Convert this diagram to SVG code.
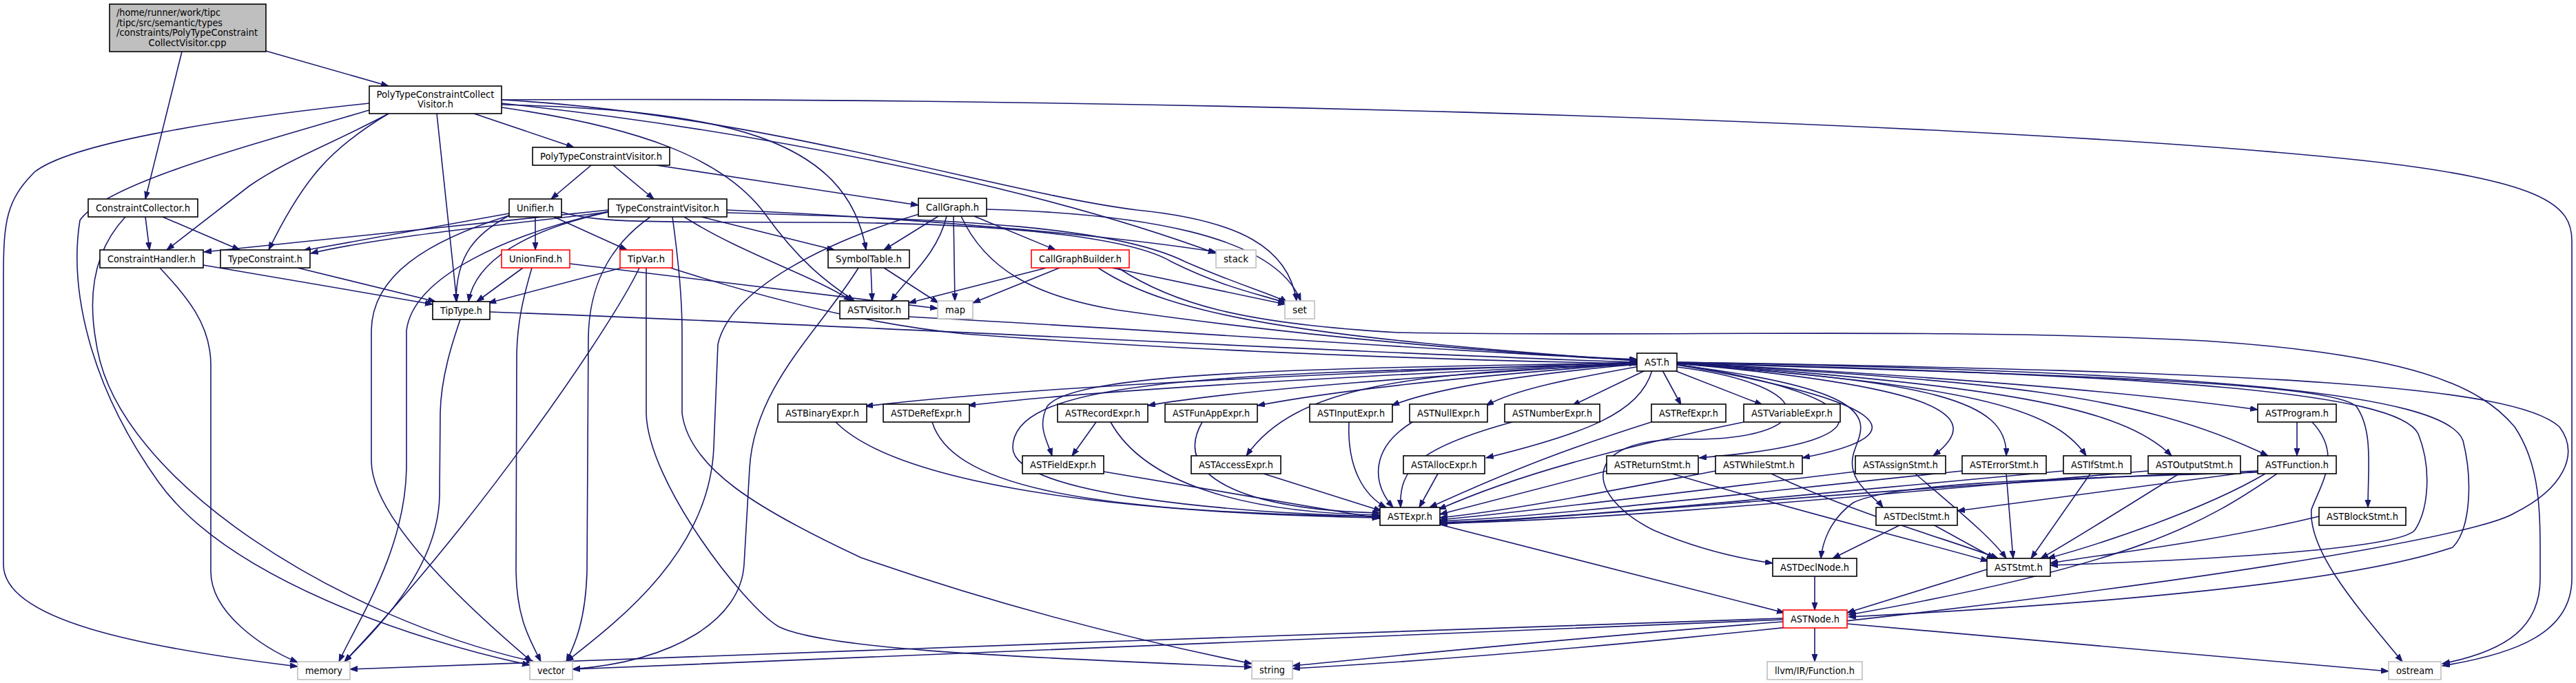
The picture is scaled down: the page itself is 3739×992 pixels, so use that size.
<svg xmlns="http://www.w3.org/2000/svg" width="3739" height="992" viewBox="0 0 3739 992">
<style>
.n rect{fill:#fff;stroke:#000;stroke-width:1.6}
.n text{font-family:"DejaVu Sans","Liberation Sans",sans-serif;font-size:14px;text-anchor:middle;fill:#000}
.red rect{stroke:#ff0000}
.sys rect{stroke:#bfbfbf}
.root rect{fill:#bfbfbf}
.root text.l{text-anchor:start}
#edges path{fill:none;stroke:#191970;stroke-width:1.6;marker-end:url(#a)}
</style>
<defs>
<marker id="a" markerUnits="userSpaceOnUse" markerWidth="12" markerHeight="9" refX="11" refY="4" orient="auto">
<path d="M0,0 L11,4 L0,8 z" fill="#191970" stroke="#191970" stroke-width="1"/>
</marker>
</defs>
<rect width="3739" height="992" fill="#fff"/>
<g id="edges">
<path d="M264,75 L211,289"/>
<path d="M386,74 L564,125"/>
<path d="M564,165 C480,210 420,230 362,270 L242,363"/>
<path d="M564,165 C480,215 440,260 390,363"/>
<path d="M634,165 L663,438"/>
<path d="M688,165 L833,214"/>
<path d="M728,152 C1050,160 1230,200 1257,363"/>
<path d="M728,156 C930,185 1050,230 1110,310 C1160,380 1200,410 1240,437"/>
<path d="M728,150 C1100,190 1500,270 1765,368"/>
<path d="M728,145 C1100,165 1450,280 1650,305 C1800,320 1870,360 1882,437"/>
<path d="M536,150 C300,175 100,210 50,250 C10,290 5,320 5,400 L5,820 C5,900 200,940 432,968"/>
<path d="M536,160 C330,220 150,270 116,320 C100,420 130,560 230,700 C330,840 600,930 769,966"/>
<path d="M728,145 C1500,140 2800,170 3400,230 C3700,260 3733,300 3733,350 L3733,840 C3733,920 3650,950 3545,967"/>
<path d="M211,315 L217,363"/>
<path d="M236,315 L348,363"/>
<path d="M182,315 C140,360 125,420 140,500 C170,700 500,900 775,961"/>
<path d="M295,385 L628,442"/>
<path d="M232,389 C270,430 306,470 306,530 L306,830 C306,890 380,940 432,962"/>
<path d="M432,389 L632,438"/>
<path d="M858,240 L800,289"/>
<path d="M890,240 L949,289"/>
<path d="M953,240 L1333,298"/>
<path d="M777,315 L777,363"/>
<path d="M804,315 L910,363"/>
<path d="M739,310 L440,364"/>
<path d="M739,313 C690,340 662,370 662,438"/>
<path d="M739,313 C620,350 540,400 539,480 L539,670 C540,760 700,900 772,961"/>
<path d="M815,308 C870,325 950,322 1200,323 C1500,325 1650,350 1700,380 C1780,420 1840,430 1866,440"/>
<path d="M883,305 L296,366"/>
<path d="M883,308 C700,330 550,345 451,368"/>
<path d="M883,308 C760,335 690,380 680,438"/>
<path d="M883,307 C740,340 600,400 590,480 L590,680 C588,800 520,900 492,961"/>
<path d="M944,315 C880,360 855,420 854,490 L852,830 C850,900 835,935 822,961"/>
<path d="M976,315 C985,380 990,430 990,480 L990,600 C1000,680 1100,740 1250,810 C1450,880 1650,930 1817,964"/>
<path d="M1018,315 L1211,363"/>
<path d="M993,315 C1080,370 1180,400 1236,437"/>
<path d="M1055,305 C1300,315 1600,340 1765,366"/>
<path d="M1055,309 C1400,318 1620,330 1720,380 C1800,415 1850,428 1868,439"/>
<path d="M902,389 L709,440"/>
<path d="M928,389 C890,470 700,750 500,961"/>
<path d="M938,389 L938,600 C940,700 1080,880 1130,910 C1200,945 1500,955 1817,969"/>
<path d="M973,389 C1100,430 1250,470 1400,485 C1800,515 2200,525 2376,528"/>
<path d="M759,389 L692,438"/>
<path d="M772,389 C760,430 750,470 750,520 L749,830 C750,900 770,930 785,961"/>
<path d="M827,383 L1361,448"/>
<path d="M711,453 C1200,470 2000,515 2376,526"/>
<path d="M668,464 C663,480 640,540 639,600 L638,720 C636,820 560,900 500,961"/>
<path d="M1264,389 L1266,437"/>
<path d="M1283,389 L1362,440"/>
<path d="M1246,389 C1190,480 1095,560 1088,680 L1080,820 C1075,900 980,960 831,972"/>
<path d="M1362,314 L1283,363"/>
<path d="M1374,314 C1360,370 1320,400 1293,437"/>
<path d="M1384,314 L1386,437"/>
<path d="M1414,314 L1532,363"/>
<path d="M1432,304 C1650,310 1850,340 1888,437"/>
<path d="M1334,311 C1200,350 1060,420 1042,500 L1036,650 C1030,800 900,900 822,961"/>
<path d="M1395,314 C1430,390 1500,430 1620,450 C1900,490 2200,515 2376,522"/>
<path d="M1519,389 L1319,440"/>
<path d="M1538,389 L1412,440"/>
<path d="M1614,389 L1866,442"/>
<path d="M1594,389 C1700,460 1900,490 2376,524"/>
<path d="M1623,389 C1700,440 1800,470 2029,483 C2400,490 2800,475 3200,495 C3500,515 3600,560 3650,620 C3690,680 3687,750 3687,840 C3687,910 3640,945 3545,964"/>
<path d="M1319,460 C1700,480 2100,510 2376,523"/>
<path d="M2376,526 C2000,540 1500,560 1256,590"/>
<path d="M2376,527 C2000,545 1600,565 1405,589"/>
<path d="M2376,527 C2100,545 1800,565 1666,589"/>
<path d="M2376,528 C2150,545 1950,565 1825,589"/>
<path d="M2376,529 C2200,545 2080,565 2020,589"/>
<path d="M2380,532 C2280,550 2200,565 2157,589"/>
<path d="M2388,538 L2282,589"/>
<path d="M2413,538 L2440,588"/>
<path d="M2430,538 L2558,588"/>
<path d="M2434,527 C2800,545 3100,570 3277,595"/>
<path d="M2376,527 C1900,535 1560,540 1520,590 C1505,620 1520,640 1527,662"/>
<path d="M2376,530 C2050,540 1880,560 1809,662"/>
<path d="M2398,538 C2380,600 2300,630 2157,665"/>
<path d="M2376,530 C1700,540 1470,560 1470,650 C1470,720 1800,745 2002,750"/>
<path d="M2434,529 C2700,570 2780,640 2466,665"/>
<path d="M2434,530 C2730,580 2800,630 2616,665"/>
<path d="M2434,528 C2800,560 2890,600 2806,662"/>
<path d="M2434,528 C2800,555 2915,580 2912,662"/>
<path d="M2434,528 C2850,560 2980,590 3028,662"/>
<path d="M2434,527 C2900,560 3080,590 3152,662"/>
<path d="M2434,527 C2900,555 3100,570 3292,662"/>
<path d="M2434,530 C2760,570 2700,620 2690,660 C2680,700 2720,720 2733,737"/>
<path d="M2434,527 C3000,545 3380,555 3420,590 C3445,625 3437,680 3437,737"/>
<path d="M2434,527 C3150,545 3480,570 3510,630 C3530,680 3525,740 3505,770 C3480,800 3150,815 2976,821"/>
<path d="M2434,526 C3200,540 3550,570 3575,640 C3590,700 3585,770 3560,795 C3400,850 3000,880 2683,896"/>
<path d="M2434,526 C3300,540 3650,560 3715,620 C3745,660 3720,710 3650,745 C3560,800 2600,930 1876,971"/>
<path d="M2434,533 C2650,560 2640,640 2450,638 C2290,636 2300,720 2400,770 C2470,800 2530,812 2573,818"/>
<path d="M1213,613 C1300,700 1600,745 2003,752"/>
<path d="M1353,613 C1380,700 1550,745 2003,750"/>
<path d="M1612,613 C1660,700 1800,745 2003,748"/>
<path d="M1591,613 L1556,662"/>
<path d="M1745,613 C1700,690 1800,740 2003,745"/>
<path d="M1958,613 C1955,680 1980,720 2012,737"/>
<path d="M2050,613 C1990,650 1990,700 2022,737"/>
<path d="M2195,613 C2060,650 2030,680 2033,737"/>
<path d="M2397,613 C2280,650 2200,680 2075,737"/>
<path d="M2531,613 C2350,650 2200,690 2088,740"/>
<path d="M1602,685 L2003,753"/>
<path d="M1834,688 L2005,742"/>
<path d="M2087,688 L2060,737"/>
<path d="M2332,684 L2090,747"/>
<path d="M2490,684 C2300,720 2200,740 2090,752"/>
<path d="M2693,685 C2400,720 2200,745 2090,755"/>
<path d="M2848,684 C2500,720 2250,750 2090,757"/>
<path d="M2995,684 C2600,720 2300,752 2090,759"/>
<path d="M3118,684 C2700,720 2350,755 2090,760"/>
<path d="M3277,684 C2800,700 2400,745 2090,761"/>
<path d="M2427,688 C2600,740 2800,790 2886,815"/>
<path d="M2571,688 C2700,750 2850,790 2900,811"/>
<path d="M2780,688 C2840,740 2890,780 2912,811"/>
<path d="M2912,688 L2922,811"/>
<path d="M3034,688 L2948,811"/>
<path d="M3163,688 C3080,740 3000,790 2962,811"/>
<path d="M3288,688 C3200,740 3050,790 2972,811"/>
<path d="M3366,750 C3200,790 3050,805 2976,818"/>
<path d="M2806,762 L2895,811"/>
<path d="M2759,762 L2660,811"/>
<path d="M3277,684 L2841,742"/>
<path d="M3277,686 C3000,695 2750,700 2690,730 C2655,755 2645,790 2643,811"/>
<path d="M3305,688 C3200,760 3100,820 2683,893"/>
<path d="M3334,613 L3334,662"/>
<path d="M3356,613 C3400,660 3370,700 3355,740 C3350,800 3420,880 3487,961"/>
<path d="M2090,762 L2590,890"/>
<path d="M2634,837 L2634,886"/>
<path d="M2884,827 L2681,890"/>
<path d="M2634,912 L2634,961"/>
<path d="M2681,906 L3467,975"/>
<path d="M2588,898 C2000,920 1000,950 508,972"/>
<path d="M2588,900 C2000,925 1200,955 831,972"/>
<path d="M2588,903 C2300,925 2000,955 1876,967"/>
</g>
<g id="root" class="n root"><rect x="159" y="6" width="227" height="69"/>
<text class="l" x="169" y="23" textLength="151" lengthAdjust="spacingAndGlyphs">/home/runner/work/tipc</text>
<text class="l" x="169" y="38" textLength="154" lengthAdjust="spacingAndGlyphs">/tipc/src/semantic/types</text>
<text class="l" x="169" y="52" textLength="205" lengthAdjust="spacingAndGlyphs">/constraints/PolyTypeConstraint</text>
<text x="272" y="67" textLength="113" lengthAdjust="spacingAndGlyphs">CollectVisitor.cpp</text></g>
<g id="PolyTypeConstraintCollectVisitor" class="n"><rect x="536" y="125" width="192" height="40"/>
<text x="632" y="142" textLength="171" lengthAdjust="spacingAndGlyphs">PolyTypeConstraintCollect</text>
<text x="632" y="156" textLength="52" lengthAdjust="spacingAndGlyphs">Visitor.h</text></g>
<g id="PolyTypeConstraintVisitor" class="n"><rect x="773" y="214" width="199" height="26"/><text x="872.5" y="232" textLength="177" lengthAdjust="spacingAndGlyphs">PolyTypeConstraintVisitor.h</text></g>
<g id="ConstraintCollector" class="n"><rect x="128" y="289" width="159" height="26"/><text x="207.5" y="307" textLength="137" lengthAdjust="spacingAndGlyphs">ConstraintCollector.h</text></g>
<g id="Unifier" class="n"><rect x="739" y="289" width="76" height="26"/><text x="777" y="307" textLength="54" lengthAdjust="spacingAndGlyphs">Unifier.h</text></g>
<g id="TypeConstraintVisitor" class="n"><rect x="883" y="289" width="172" height="26"/><text x="969" y="307" textLength="150" lengthAdjust="spacingAndGlyphs">TypeConstraintVisitor.h</text></g>
<g id="CallGraph" class="n"><rect x="1333" y="288" width="99" height="26"/><text x="1382.5" y="306" textLength="77" lengthAdjust="spacingAndGlyphs">CallGraph.h</text></g>
<g id="ConstraintHandler" class="n"><rect x="145" y="363" width="150" height="26"/><text x="220" y="381" textLength="128" lengthAdjust="spacingAndGlyphs">ConstraintHandler.h</text></g>
<g id="TypeConstraint" class="n"><rect x="320" y="363" width="130" height="26"/><text x="385" y="381" textLength="108" lengthAdjust="spacingAndGlyphs">TypeConstraint.h</text></g>
<g id="UnionFind" class="n red"><rect x="728" y="363" width="99" height="26"/><text x="777.5" y="381" textLength="77" lengthAdjust="spacingAndGlyphs">UnionFind.h</text></g>
<g id="TipVar" class="n red"><rect x="900" y="363" width="76" height="26"/><text x="938" y="381" textLength="54" lengthAdjust="spacingAndGlyphs">TipVar.h</text></g>
<g id="SymbolTable" class="n"><rect x="1202" y="363" width="118" height="26"/><text x="1261" y="381" textLength="96" lengthAdjust="spacingAndGlyphs">SymbolTable.h</text></g>
<g id="CallGraphBuilder" class="n red"><rect x="1497" y="363" width="142" height="26"/><text x="1568" y="381" textLength="120" lengthAdjust="spacingAndGlyphs">CallGraphBuilder.h</text></g>
<g id="stack" class="n sys"><rect x="1765" y="363" width="58" height="26"/><text x="1794" y="381" textLength="36" lengthAdjust="spacingAndGlyphs">stack</text></g>
<g id="TipType" class="n"><rect x="628" y="438" width="83" height="26"/><text x="669.5" y="456" textLength="61" lengthAdjust="spacingAndGlyphs">TipType.h</text></g>
<g id="ASTVisitor" class="n"><rect x="1219" y="437" width="100" height="26"/><text x="1269" y="455" textLength="78" lengthAdjust="spacingAndGlyphs">ASTVisitor.h</text></g>
<g id="map" class="n sys"><rect x="1361" y="437" width="51" height="26"/><text x="1386.5" y="455" textLength="29" lengthAdjust="spacingAndGlyphs">map</text></g>
<g id="set" class="n sys"><rect x="1865" y="437" width="43" height="26"/><text x="1886.5" y="455" textLength="21" lengthAdjust="spacingAndGlyphs">set</text></g>
<g id="AST" class="n"><rect x="2376" y="513" width="58" height="26"/><text x="2405" y="531" textLength="36" lengthAdjust="spacingAndGlyphs">AST.h</text></g>
<g id="ASTBinaryExpr" class="n"><rect x="1129" y="587" width="129" height="26"/><text x="1193.5" y="605" textLength="107" lengthAdjust="spacingAndGlyphs">ASTBinaryExpr.h</text></g>
<g id="ASTDeRefExpr" class="n"><rect x="1282" y="587" width="125" height="26"/><text x="1344.5" y="605" textLength="103" lengthAdjust="spacingAndGlyphs">ASTDeRefExpr.h</text></g>
<g id="ASTRecordExpr" class="n"><rect x="1535" y="587" width="131" height="26"/><text x="1600.5" y="605" textLength="109" lengthAdjust="spacingAndGlyphs">ASTRecordExpr.h</text></g>
<g id="ASTFunAppExpr" class="n"><rect x="1691" y="587" width="134" height="26"/><text x="1758" y="605" textLength="112" lengthAdjust="spacingAndGlyphs">ASTFunAppExpr.h</text></g>
<g id="ASTInputExpr" class="n"><rect x="1901" y="587" width="120" height="26"/><text x="1961" y="605" textLength="98" lengthAdjust="spacingAndGlyphs">ASTInputExpr.h</text></g>
<g id="ASTNullExpr" class="n"><rect x="2046" y="587" width="113" height="26"/><text x="2102.5" y="605" textLength="91" lengthAdjust="spacingAndGlyphs">ASTNullExpr.h</text></g>
<g id="ASTNumberExpr" class="n"><rect x="2184" y="587" width="138" height="26"/><text x="2253" y="605" textLength="116" lengthAdjust="spacingAndGlyphs">ASTNumberExpr.h</text></g>
<g id="ASTRefExpr" class="n"><rect x="2397" y="587" width="108" height="26"/><text x="2451" y="605" textLength="86" lengthAdjust="spacingAndGlyphs">ASTRefExpr.h</text></g>
<g id="ASTVariableExpr" class="n"><rect x="2531" y="587" width="140" height="26"/><text x="2601" y="605" textLength="118" lengthAdjust="spacingAndGlyphs">ASTVariableExpr.h</text></g>
<g id="ASTProgram" class="n"><rect x="3277" y="587" width="114" height="26"/><text x="3334" y="605" textLength="92" lengthAdjust="spacingAndGlyphs">ASTProgram.h</text></g>
<g id="ASTFieldExpr" class="n"><rect x="1484" y="662" width="118" height="26"/><text x="1543" y="680" textLength="96" lengthAdjust="spacingAndGlyphs">ASTFieldExpr.h</text></g>
<g id="ASTAccessExpr" class="n"><rect x="1729" y="662" width="130" height="26"/><text x="1794" y="680" textLength="108" lengthAdjust="spacingAndGlyphs">ASTAccessExpr.h</text></g>
<g id="ASTAllocExpr" class="n"><rect x="2037" y="662" width="118" height="26"/><text x="2096" y="680" textLength="96" lengthAdjust="spacingAndGlyphs">ASTAllocExpr.h</text></g>
<g id="ASTReturnStmt" class="n"><rect x="2332" y="662" width="133" height="26"/><text x="2398.5" y="680" textLength="111" lengthAdjust="spacingAndGlyphs">ASTReturnStmt.h</text></g>
<g id="ASTWhileStmt" class="n"><rect x="2490" y="662" width="126" height="26"/><text x="2553" y="680" textLength="104" lengthAdjust="spacingAndGlyphs">ASTWhileStmt.h</text></g>
<g id="ASTAssignStmt" class="n"><rect x="2693" y="662" width="131" height="26"/><text x="2758.5" y="680" textLength="109" lengthAdjust="spacingAndGlyphs">ASTAssignStmt.h</text></g>
<g id="ASTErrorStmt" class="n"><rect x="2848" y="662" width="122" height="26"/><text x="2909" y="680" textLength="100" lengthAdjust="spacingAndGlyphs">ASTErrorStmt.h</text></g>
<g id="ASTIfStmt" class="n"><rect x="2995" y="662" width="98" height="26"/><text x="3044" y="680" textLength="76" lengthAdjust="spacingAndGlyphs">ASTIfStmt.h</text></g>
<g id="ASTOutputStmt" class="n"><rect x="3118" y="662" width="134" height="26"/><text x="3185" y="680" textLength="112" lengthAdjust="spacingAndGlyphs">ASTOutputStmt.h</text></g>
<g id="ASTFunction" class="n"><rect x="3277" y="662" width="114" height="26"/><text x="3334" y="680" textLength="92" lengthAdjust="spacingAndGlyphs">ASTFunction.h</text></g>
<g id="ASTExpr" class="n"><rect x="2003" y="737" width="87" height="26"/><text x="2046.5" y="755" textLength="65" lengthAdjust="spacingAndGlyphs">ASTExpr.h</text></g>
<g id="ASTDeclStmt" class="n"><rect x="2723" y="737" width="118" height="26"/><text x="2782" y="755" textLength="96" lengthAdjust="spacingAndGlyphs">ASTDeclStmt.h</text></g>
<g id="ASTBlockStmt" class="n"><rect x="3366" y="737" width="126" height="26"/><text x="3429" y="755" textLength="104" lengthAdjust="spacingAndGlyphs">ASTBlockStmt.h</text></g>
<g id="ASTDeclNode" class="n"><rect x="2573" y="811" width="122" height="26"/><text x="2634" y="829" textLength="100" lengthAdjust="spacingAndGlyphs">ASTDeclNode.h</text></g>
<g id="ASTStmt" class="n"><rect x="2884" y="811" width="92" height="26"/><text x="2930" y="829" textLength="70" lengthAdjust="spacingAndGlyphs">ASTStmt.h</text></g>
<g id="ASTNode" class="n red"><rect x="2588" y="886" width="93" height="26"/><text x="2634.5" y="904" textLength="71" lengthAdjust="spacingAndGlyphs">ASTNode.h</text></g>
<g id="memory" class="n sys"><rect x="432" y="961" width="76" height="26"/><text x="470" y="979" textLength="54" lengthAdjust="spacingAndGlyphs">memory</text></g>
<g id="vector" class="n sys"><rect x="769" y="961" width="62" height="26"/><text x="800" y="979" textLength="40" lengthAdjust="spacingAndGlyphs">vector</text></g>
<g id="string" class="n sys"><rect x="1817" y="960" width="59" height="26"/><text x="1846.5" y="978" textLength="37" lengthAdjust="spacingAndGlyphs">string</text></g>
<g id="llvmFunction" class="n sys"><rect x="2565" y="961" width="138" height="26"/><text x="2634" y="979" textLength="116" lengthAdjust="spacingAndGlyphs">llvm/IR/Function.h</text></g>
<g id="ostream" class="n sys"><rect x="3467" y="961" width="76" height="26"/><text x="3505" y="979" textLength="54" lengthAdjust="spacingAndGlyphs">ostream</text></g>
</svg>
